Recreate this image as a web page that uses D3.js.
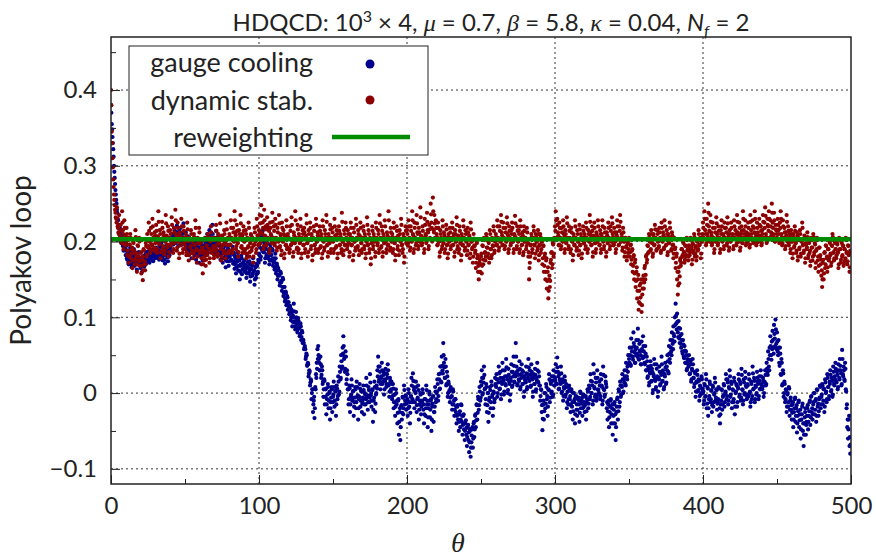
<!DOCTYPE html>
<html>
<head>
<meta charset="utf-8">
<script src="https://cdn.jsdelivr.net/npm/d3@7"></script>
<style>
    body { margin: 0; background: #fff; }
    text { font-family: Lato, "Liberation Sans", sans-serif; fill: #222; }
    .axis text { font-size: 24px; font-family: Lato, "Liberation Sans", sans-serif; fill: #222; }
    .greek { font-family: "Liberation Serif", "DejaVu Serif", serif; font-style: italic; }
</style>
</head>
<body>
<svg class="polyakov_chart" width="876" height="557"></svg>
<script>
// values in units of 0.001; "A" arrays sit at theta = i*0.5, "B" arrays at theta = i*0.5 + 0.25
var thetaStep = 0.5;

var gaugeCoolingA = [
    380,355,338,322,300,284,268,255,242,230,222,212,218,204,198,210,194,188,203,196,
    182,195,176,188,170,184,192,178,166,181,174,190,168,177,185,163,172,180,169,176,
    165,174,160,171,178,167,182,170,186,175,193,181,172,188,179,196,184,174,190,183,
    178,192,185,200,188,176,194,182,198,187,175,190,183,171,186,195,180,174,189,182,
    192,201,187,210,196,205,215,199,208,221,203,194,212,200,218,207,196,211,224,205,
    199,212,203,190,207,195,185,200,191,178,196,188,205,182,193,176,189,198,184,172,
    190,181,197,186,175,192,183,201,188,196,210,185,199,215,193,204,188,222,197,185,
    205,192,214,186,198,209,183,195,176,190,184,172,188,197,179,166,185,174,191,168,
    182,196,175,188,203,171,185,164,179,158,173,186,162,176,150,168,181,157,171,163,
    175,160,169,152,181,166,158,174,147,163,170,155,178,161,143,167,152,171,158,176,
    184,197,176,208,190,214,186,199,172,193,181,205,178,188,170,196,183,175,190,168,
    178,163,184,158,171,150,165,155,142,160,146,135,152,128,140,121,134,116,128,110,
    120,104,115,96,110,88,102,118,93,84,107,95,80,99,88,75,92,70,82,66,
    70,58,62,45,52,36,40,22,30,10,18,-8,5,-25,-10,-33,8,25,40,58,
    62,45,30,48,20,35,12,-5,18,-15,5,-28,-8,12,-20,0,-35,-12,8,-25,
    -5,15,-18,2,-30,10,-8,22,-2,35,18,50,32,60,75,45,28,55,12,30,
    5,-15,10,-25,-5,18,-10,2,-30,-12,8,-20,15,-5,-35,-8,12,-18,3,-25,
    -10,10,-28,0,-15,20,-5,-22,8,-12,25,-3,-18,5,-38,-10,15,-25,-2,10,
    30,48,15,35,5,22,40,12,28,-2,18,32,8,25,38,10,-5,20,2,15,
    -8,12,-20,-2,-30,5,-15,-40,-10,-55,-25,-62,-18,-35,-5,-28,10,-15,-3,-22,
    -10,-30,5,-18,-40,-5,20,-12,26,8,-20,2,15,-25,-8,10,-35,-15,0,-28,
    -12,5,-22,-40,-8,-30,10,-15,-45,-20,2,-32,-10,-50,-18,-5,-38,-25,8,-12,
    0,18,-10,25,5,35,15,48,30,66,40,20,45,10,28,-5,15,2,-12,8,
    -5,-22,5,-15,-30,-8,-25,-40,-18,-35,-50,-28,-45,-15,-38,-55,-30,-48,-62,-40,
    -55,-70,-45,-62,-78,-50,-84,-65,-48,-72,-40,-58,-30,-45,-15,-35,-5,-22,8,-10,
    15,30,-2,20,35,5,-15,12,-25,0,-38,-10,8,-20,15,-5,-30,2,-12,20,
    10,25,-5,18,35,5,28,-8,15,40,20,-2,30,12,45,22,0,32,15,-10,
    20,38,8,28,48,15,25,66,35,10,30,18,42,5,25,38,12,28,-5,22,
    15,35,5,25,45,18,30,8,38,20,-5,25,12,32,2,20,40,15,28,10,
    -10,5,-25,-49,-15,-35,0,-20,12,-8,-30,5,25,-12,15,0,22,-5,30,10,
    20,38,12,47,28,5,25,15,35,0,18,-10,8,22,-5,12,-20,2,-15,10,
    -8,-25,5,-18,-35,0,-12,-40,-5,-22,-30,-8,-15,-38,2,-20,-10,-30,-2,-18,
    -25,-5,-35,-12,5,-20,10,-8,25,0,15,-15,38,8,-5,20,-10,30,5,-2,
    15,-8,25,10,-15,35,5,-5,22,12,-20,-35,-15,-45,-25,-10,-40,-20,-55,-30,
    -15,-40,-62,-25,-8,-35,5,-18,15,-5,10,25,0,18,30,12,40,22,35,50,
    45,60,38,72,55,48,80,62,40,58,70,52,85,45,65,55,38,68,48,75,
    55,40,62,30,48,20,35,10,28,42,15,32,0,25,45,18,5,38,22,-5,
    20,35,10,28,48,15,30,5,25,40,12,35,50,28,62,45,70,55,80,65,
    88,75,100,118,92,105,80,95,72,85,65,78,55,70,48,62,40,55,30,45,
    38,50,25,42,15,32,45,20,8,28,-5,15,30,2,18,-10,10,-2,22,5,
    0,-15,12,-5,25,-20,8,-30,-8,15,-12,3,-25,10,-18,-2,20,-10,5,-22,
    -12,8,-30,-40,-15,5,-22,-5,12,-18,0,25,-8,18,-15,8,30,-5,15,-20,
    5,-12,20,-28,0,12,-18,8,25,-5,15,-10,32,5,-15,18,-2,28,10,-8,
    12,-5,25,0,-18,15,-8,35,5,20,-12,10,-2,28,15,-8,22,5,30,12,
    5,20,-5,15,30,10,40,28,55,35,60,75,50,68,82,60,90,72,97,65,
    80,55,70,40,60,25,45,10,30,-5,15,-12,5,-25,-2,-18,8,-30,-10,-22,
    -35,-15,-45,-25,-8,-38,-20,-52,-30,-12,-45,-28,-60,-35,-18,-50,-70,-40,-25,-55,
    -38,-20,-48,-30,-12,-42,-5,-25,-35,-15,0,-28,-10,-38,5,-18,-30,-8,10,-20,
    -5,12,-15,5,-25,18,0,-12,25,8,-8,15,30,2,20,-5,35,12,22,40,
    15,28,5,38,20,45,30,10,57,25,35,18,40,5,-20,-45,-60,-35,-70,-80
];

var gaugeCoolingB = [
    370,348,330,312,292,276,262,250,238,228,218,210,206,200,205,198,202,195,200,192,
    188,178,185,172,182,175,186,170,178,184,172,180,176,170,183,174,179,186,171,177,
    172,178,168,176,181,170,177,184,173,180,187,176,183,178,189,181,175,186,180,184,
    186,180,190,183,178,187,181,192,185,179,188,182,176,185,190,183,179,186,181,188,
    195,203,198,206,200,210,204,198,212,206,201,208,214,203,209,200,206,212,204,199,
    205,196,200,192,198,189,195,201,193,186,197,191,199,188,194,185,192,197,190,186,
    192,186,195,189,183,194,187,198,191,199,205,193,200,208,196,202,192,210,198,190,
    198,190,205,188,195,201,186,193,182,190,186,178,189,194,183,175,186,179,188,174,
    180,188,176,184,193,174,182,170,178,166,174,181,168,175,160,170,178,163,172,166,
    170,163,168,158,173,165,160,170,154,164,168,158,172,162,150,166,157,168,160,172,
    182,192,180,200,188,205,186,195,178,190,183,198,180,186,175,192,182,177,188,172,
    175,166,178,162,168,155,162,156,146,158,148,140,150,132,140,125,132,120,126,115,
    115,106,112,100,106,94,100,108,95,88,100,92,84,95,86,78,88,74,80,70,
    66,60,58,48,50,38,38,26,28,14,16,0,5,-15,-5,-20,5,20,32,45,
    50,40,30,38,24,30,15,5,16,-5,6,-15,-2,8,-10,2,-20,-6,5,-12,
    -2,8,-10,3,-15,6,-4,15,2,28,20,42,35,52,62,48,32,48,18,25,
    5,-8,6,-15,-2,10,-6,3,-18,-6,5,-12,8,-3,-20,-5,6,-10,2,-14,
    -6,4,-15,-2,-8,10,-3,-12,4,-6,14,0,-10,4,-22,-6,8,-14,0,6,
    22,35,18,28,12,20,30,15,24,5,16,26,12,20,30,12,2,16,5,12,
    -4,6,-12,-2,-18,0,-10,-26,-8,-38,-20,-45,-16,-26,-6,-20,4,-10,-4,-14,
    -8,-20,0,-12,-26,-4,10,-8,16,4,-12,0,8,-16,-6,4,-22,-10,-2,-18,
    -10,0,-15,-28,-8,-20,4,-10,-32,-15,-2,-22,-8,-35,-14,-4,-25,-18,2,-8,
    2,12,-4,18,6,26,14,36,26,50,34,20,35,12,22,0,12,4,-6,5,
    -4,-15,2,-10,-22,-8,-18,-30,-16,-28,-38,-24,-35,-16,-30,-42,-28,-40,-50,-36,
    -46,-58,-42,-52,-65,-48,-72,-56,-45,-60,-38,-48,-28,-36,-16,-26,-8,-16,2,-6,
    10,20,0,14,24,6,-8,8,-16,0,-26,-6,4,-12,10,-2,-20,0,-8,12,
    8,18,0,14,26,6,20,-2,12,30,16,2,22,10,34,18,4,24,12,-2,
    16,28,10,22,36,14,22,48,28,12,24,16,32,8,20,30,12,22,2,18,
    14,26,8,20,34,16,24,10,28,18,2,20,12,24,5,16,30,14,22,10,
    -4,4,-16,-34,-10,-24,0,-14,8,-4,-18,4,18,-6,12,2,16,-2,22,10,
    16,28,12,34,22,6,18,12,26,2,14,-4,6,16,-2,8,-12,2,-8,6,
    -4,-16,2,-12,-24,0,-8,-28,-4,-15,-22,-6,-10,-26,0,-14,-6,-20,-2,-12,
    -16,-4,-24,-8,2,-14,6,-5,16,0,10,-10,26,6,-2,14,-6,20,4,0,
    10,-4,18,8,-10,24,4,-2,15,8,-12,-24,-10,-32,-18,-8,-28,-15,-40,-22,
    -12,-28,-45,-18,-6,-24,2,-12,10,-2,8,18,2,14,22,10,30,18,28,38,
    40,50,36,60,48,44,66,54,40,50,60,48,70,44,56,50,38,58,46,62,
    48,38,52,30,42,22,32,14,26,36,16,28,4,22,38,16,8,32,20,2,
    18,28,12,24,38,16,26,8,22,34,14,30,42,26,52,40,60,50,70,58,
    78,68,90,102,84,94,74,86,66,76,60,70,52,64,46,56,40,50,32,42,
    35,44,26,38,18,30,38,20,12,26,2,14,24,4,16,-4,8,0,18,6,
    2,-10,10,-4,18,-14,6,-20,-4,12,-8,4,-16,8,-12,0,14,-6,4,-14,
    -8,6,-20,-28,-10,4,-15,-3,10,-12,2,18,-4,14,-10,6,22,-2,12,-12,
    4,-8,15,-18,2,10,-12,6,18,-2,12,-6,24,4,-10,14,0,20,8,-4,
    10,-2,18,2,-12,12,-4,26,6,16,-8,8,0,20,12,-4,16,6,22,10,
    8,16,0,14,24,12,32,24,45,30,50,62,44,58,70,52,78,62,84,58,
    68,50,60,36,52,24,40,12,26,0,12,-8,4,-18,0,-12,6,-22,-6,-16,
    -26,-12,-35,-20,-6,-30,-16,-40,-24,-10,-36,-22,-48,-28,-14,-40,-55,-32,-20,-42,
    -30,-16,-38,-24,-10,-32,-4,-20,-28,-12,0,-22,-8,-30,4,-14,-24,-6,8,-15,
    -2,10,-10,6,-18,14,2,-8,20,8,-4,12,24,4,16,-2,28,10,18,32,
    14,24,8,30,18,36,26,12,45,22,30,16,32,2,-15,-35,-48,-30,-58,-68
];

var dynamicStabA = [
    400,345,310,282,262,248,238,230,245,220,212,235,205,222,198,240,215,190,228,208,
    195,218,182,205,172,196,210,178,190,165,200,185,170,215,180,160,195,175,205,168,
    185,158,176,149,190,170,162,198,180,210,192,225,200,185,218,195,230,205,188,212,
    198,222,185,207,240,196,215,178,203,226,190,212,183,200,235,208,192,220,180,205,
    215,195,232,202,185,218,198,242,210,188,225,200,178,212,195,230,205,185,220,198,
    190,210,182,225,200,175,205,192,215,185,200,178,210,195,228,188,172,205,198,218,
    185,200,170,192,158,185,175,205,168,195,182,210,190,172,200,220,185,205,192,178,
    205,188,222,195,180,210,198,235,190,175,208,195,185,215,200,178,225,195,205,185,
    210,195,228,205,185,218,200,240,212,190,222,198,180,215,205,235,192,210,185,220,
    200,185,215,178,205,192,225,180,198,210,188,205,172,195,218,200,185,230,208,195,
    215,235,198,248,212,225,190,242,208,220,195,232,205,218,185,225,210,198,238,205,
    220,195,230,205,188,218,200,235,192,210,182,225,200,215,178,208,195,228,190,210,
    205,185,220,195,232,200,180,212,198,240,205,190,222,185,210,198,230,178,205,215,
    195,218,185,208,235,198,180,215,202,225,190,210,175,205,220,195,185,230,200,212,
    185,205,220,192,210,178,228,200,188,215,205,235,195,180,210,198,222,185,205,218,
    200,185,230,208,192,215,178,205,220,195,210,185,238,200,182,215,195,225,205,190,
    215,198,180,210,225,195,205,175,218,200,188,230,205,192,215,182,208,225,198,185,
    205,220,190,210,178,200,232,195,215,185,205,170,198,220,190,210,200,180,225,205,
    195,215,185,235,205,192,220,180,210,198,228,200,185,212,195,240,205,188,218,200,
    210,185,225,198,175,205,220,190,208,182,215,200,230,195,185,210,172,205,220,198,
    215,195,228,205,188,220,200,240,210,185,225,205,195,235,212,190,218,200,245,208,
    195,220,205,185,230,210,198,238,215,190,222,205,250,225,200,258,215,235,205,228,
    210,195,225,200,180,215,205,190,228,198,212,185,205,222,195,178,210,200,218,190,
    205,225,195,210,180,215,200,232,190,208,185,220,198,175,210,195,228,205,188,215,
    200,182,218,195,208,178,225,200,190,172,210,195,185,165,200,178,160,150,172,160,
    180,158,195,170,205,185,175,210,192,180,200,172,215,190,178,205,195,220,185,200,
    210,195,228,205,188,220,200,235,212,195,225,205,190,218,200,232,210,185,220,205,
    195,215,225,200,185,210,234,205,190,220,200,215,185,228,205,195,212,182,220,200,
    205,190,218,198,180,150,172,195,210,185,205,220,195,178,210,200,188,215,175,195,
    210,185,200,170,195,160,180,150,175,138,160,125,150,140,172,185,165,198,180,205,
    220,240,205,230,212,195,225,205,190,218,200,228,210,185,215,198,232,205,190,220,
    205,185,218,200,175,210,195,228,205,188,215,200,182,222,195,210,178,205,220,198,
    210,190,225,205,185,215,200,235,212,195,220,180,208,225,198,185,212,200,228,205,
    195,215,185,210,228,200,190,218,205,180,212,198,225,205,190,220,200,232,210,195,
    218,200,185,212,228,205,195,220,235,200,210,188,218,200,180,205,192,175,198,185,
    205,180,195,170,188,160,180,150,172,140,160,125,150,110,135,118,145,107,130,150,
    138,165,150,180,172,195,185,210,200,188,215,198,180,210,195,222,205,188,215,200,
    192,218,205,185,225,200,212,190,228,205,195,215,182,210,198,225,205,188,212,195,
    178,205,190,165,180,150,130,160,145,175,168,190,180,200,185,172,195,180,205,188,
    175,195,182,205,190,170,198,185,210,180,192,175,200,188,215,195,205,178,200,210,
    225,205,240,215,195,230,210,250,220,200,235,212,195,225,205,185,218,200,232,210,
    195,220,205,185,215,228,200,210,190,225,205,218,195,232,210,188,215,200,225,205,
    210,190,228,205,215,195,235,212,200,225,188,210,220,198,240,215,205,228,195,212,
    200,225,210,192,235,215,205,228,198,218,240,210,195,225,212,200,230,208,220,195,
    215,235,205,225,245,210,198,230,220,240,205,228,212,250,225,210,238,200,222,215,
    205,230,215,198,225,240,210,195,228,205,218,190,212,235,200,220,195,210,185,215,
    200,178,210,192,220,198,185,212,175,205,190,215,180,200,225,195,185,208,172,198,
    190,212,178,200,185,168,205,192,175,210,182,198,165,188,205,175,160,192,180,170,
    155,140,172,150,185,165,195,178,160,190,175,200,182,168,195,210,185,175,200,190,
    178,198,185,165,205,190,172,200,180,195,168,190,175,205,185,170,195,182,160,188
];

var dynamicStabB = [
    380,330,298,272,255,242,232,225,230,218,210,222,206,215,200,225,210,196,218,206,
    198,210,188,202,180,196,205,184,192,175,198,188,176,206,184,170,194,180,200,174,
    186,168,180,162,188,174,170,194,182,202,194,214,200,190,210,196,220,204,192,208,
    200,214,190,206,226,198,210,186,204,218,194,208,188,200,224,206,196,214,186,204,
    210,198,222,202,190,212,200,228,208,192,218,200,184,208,196,220,204,190,214,200,
    194,206,186,216,200,182,204,194,210,188,200,184,206,196,218,190,180,204,198,212,
    188,198,178,192,170,188,180,202,176,194,186,206,190,178,200,212,188,202,194,182,
    202,190,214,196,184,206,198,224,192,180,206,196,188,210,200,184,216,196,204,188,
    206,196,218,204,190,212,200,228,208,194,214,198,186,210,204,224,194,208,190,214,
    200,190,210,184,204,194,218,186,198,208,192,204,180,196,212,200,190,220,206,196,
    210,224,200,234,210,218,194,228,206,216,198,222,204,214,190,218,208,200,226,204,
    214,198,222,204,192,212,200,224,194,208,188,218,200,210,184,206,196,220,192,206,
    204,190,214,196,222,200,186,208,198,228,204,192,216,190,206,198,220,184,204,210,
    196,212,190,206,224,198,186,210,202,218,194,206,182,204,214,196,190,222,200,208,
    190,204,214,194,206,184,220,200,192,210,204,226,196,186,206,198,216,190,204,212,
    200,190,220,206,194,210,184,204,214,196,206,190,226,200,188,210,196,218,204,194,
    210,198,186,206,218,196,204,182,212,200,192,222,204,194,210,188,206,218,198,190,
    204,214,194,206,184,200,222,196,210,190,204,178,198,214,194,206,200,186,218,204,
    198,210,190,224,204,194,214,186,206,198,220,200,190,208,196,228,204,192,212,200,
    206,190,218,198,182,204,214,194,206,188,210,200,222,196,190,206,180,204,214,198,
    210,198,220,204,192,214,200,228,208,190,218,204,198,224,210,194,212,200,232,206,
    198,214,204,190,222,208,200,226,212,194,216,204,236,218,202,240,212,224,204,218,
    206,196,218,200,186,210,204,194,220,198,208,190,204,216,196,184,206,200,212,194,
    204,218,196,208,186,210,200,222,194,206,190,214,198,182,206,196,220,204,192,210,
    200,188,212,196,206,184,216,200,192,180,204,194,188,172,198,182,168,160,176,170,
    184,168,194,176,202,186,180,206,192,184,198,178,210,190,182,202,194,214,188,200,
    206,196,220,204,192,214,200,226,208,196,218,204,194,212,200,224,208,190,214,204,
    198,210,218,200,190,208,224,204,194,214,200,210,190,220,204,196,208,186,214,200,
    204,194,212,198,186,165,180,196,206,190,204,214,196,184,206,200,192,210,182,196,
    206,190,200,178,194,168,184,160,178,148,166,135,155,148,176,186,170,196,184,202,
    214,228,204,222,208,196,218,204,194,212,200,220,206,190,210,198,224,204,194,214,
    204,190,212,200,182,206,196,220,204,192,210,200,188,216,196,206,184,204,214,198,
    206,194,218,204,190,210,200,226,208,196,214,186,206,218,198,190,208,200,220,204,
    196,210,190,206,220,200,194,212,204,186,208,198,218,204,194,214,200,224,206,196,
    212,200,190,208,220,204,196,214,226,200,206,192,212,200,186,204,194,180,198,190,
    202,186,196,176,190,168,182,158,176,148,166,135,156,120,142,126,150,116,138,155,
    146,168,156,182,176,194,186,206,200,190,210,198,184,206,196,216,204,190,210,200,
    194,212,204,188,218,200,208,192,220,204,196,210,186,206,198,218,204,190,208,196,
    184,204,192,172,184,160,142,166,154,178,172,190,182,198,186,176,194,182,202,190,
    180,194,186,202,192,176,196,188,206,184,194,180,200,190,210,196,204,184,200,206,
    218,204,230,210,198,222,206,238,214,200,226,208,198,218,204,190,212,200,224,206,
    198,214,204,190,210,220,200,208,194,218,204,212,198,224,206,192,210,200,218,204,
    206,194,220,204,210,198,226,208,200,218,192,206,214,198,230,210,204,220,198,208,
    200,218,206,196,226,210,204,220,200,212,230,206,198,218,208,200,222,206,214,198,
    210,226,204,218,234,206,200,222,214,230,204,220,208,238,218,206,228,200,216,210,
    204,222,210,200,218,230,206,198,220,204,212,194,208,226,200,214,198,206,190,210,
    200,184,206,194,214,198,188,208,180,202,192,210,184,200,218,196,188,204,178,196,
    192,206,182,198,188,174,202,192,180,206,186,196,172,190,202,180,168,192,182,176,
    162,150,176,158,186,170,194,180,166,190,178,198,184,172,194,206,186,178,198,190,
    182,196,186,170,202,190,176,198,182,194,172,190,178,202,186,174,194,184,166,186
];

var reweighting = 0.203;

var xTicks = [0, 100, 200, 300, 400, 500];
var xMinorTicks = [50, 150, 250, 350, 450];
var yTicks = [-0.1, 0, 0.1, 0.2, 0.3, 0.4];
var yMinorTicks = [-0.05, 0.05, 0.15, 0.25, 0.35, 0.45];

var legendLabels = ["gauge cooling", "dynamic stab.", "reweighting"];
var colors = ["#00008b", "#8b0000", "#008c00"];

var svg = d3.select('.polyakov_chart');

var margin = { top: 37, right: 25, bottom: 73, left: 111 },
    width = +svg.attr("width") - margin.left - margin.right,
    height = +svg.attr("height") - margin.top - margin.bottom;

var xScale = d3.scaleLinear().domain([0, 500]).range([0, width]);
var yScale = d3.scaleLinear().domain([-0.12, 0.47]).range([height, 0]);

function toPoints(a, b) {
    var pts = [];
    a.forEach(function (v, i) { pts.push({ theta: i * thetaStep, value: v / 1000 }); });
    b.forEach(function (v, i) { pts.push({ theta: i * thetaStep + thetaStep / 2, value: v / 1000 }); });
    return pts;
}

drawChart();

function drawChart() {
    var chart = svg.append("g")
        .attr("transform", "translate(" + margin.left + "," + margin.top + ")");

    chart.append("defs").append("clipPath")
        .attr("id", "clip")
        .append("rect")
        .attr("width", width)
        .attr("height", height);

    // grid
    var grid = chart.append("g")
        .attr("stroke", "#333")
        .attr("stroke-width", 1)
        .attr("stroke-dasharray", "2,3");

    grid.selectAll(".gx")
        .data(xTicks.slice(1, -1)).enter()
        .append("line")
        .attr("x1", function (d) { return xScale(d); })
        .attr("x2", function (d) { return xScale(d); })
        .attr("y1", 0)
        .attr("y2", height);

    grid.selectAll(".gy")
        .data(yTicks).enter()
        .append("line")
        .attr("x1", 0)
        .attr("x2", width)
        .attr("y1", function (d) { return yScale(d); })
        .attr("y2", function (d) { return yScale(d); });

    var plot = chart.append("g").attr("clip-path", "url(#clip)");

    [[gaugeCoolingA, gaugeCoolingB], [dynamicStabA, dynamicStabB]].forEach(function (series, k) {
        plot.append("g")
            .selectAll("circle")
            .data(toPoints(series[0], series[1])).enter()
            .append("circle")
            .attr("cx", function (d) { return xScale(d.theta); })
            .attr("cy", function (d) { return yScale(d.value); })
            .attr("r", 2.1)
            .attr("fill", colors[k]);
    });

    plot.append("line")
        .attr("x1", xScale(0))
        .attr("x2", xScale(500))
        .attr("y1", yScale(reweighting))
        .attr("y2", yScale(reweighting))
        .attr("stroke", colors[2])
        .attr("stroke-width", 4.5);

    // axes
    var fmt = function (d) { return d === 0 ? "0" : d3.format(".1f")(d); };

    chart.append("g")
        .attr("class", "axis")
        .attr("color", "#222")
        .call(d3.axisLeft(yScale).tickValues(yTicks).tickSize(-9).tickPadding(14).tickFormat(fmt))
        .call(function (g) { g.select(".domain").remove(); });

    chart.append("g")
        .attr("color", "#222")
        .call(d3.axisLeft(yScale).tickValues(yMinorTicks).tickSize(-5).tickFormat(""))
        .call(function (g) { g.select(".domain").remove(); });

    chart.append("g")
        .attr("class", "axis")
        .attr("color", "#222")
        .attr("transform", "translate(0," + height + ")")
        .call(d3.axisBottom(xScale).tickValues(xTicks).tickSize(-9).tickPadding(13))
        .call(function (g) { g.select(".domain").remove(); });

    chart.append("g")
        .attr("color", "#222")
        .attr("transform", "translate(0," + height + ")")
        .call(d3.axisBottom(xScale).tickValues(xMinorTicks).tickSize(-5).tickFormat(""))
        .call(function (g) { g.select(".domain").remove(); });

    chart.append("rect")
        .attr("width", width)
        .attr("height", height)
        .attr("fill", "none")
        .attr("stroke", "#222")
        .attr("stroke-width", 1.5);

    // legend
    var legend = chart.append("g").attr("transform", "translate(18,9)");

    legend.append("rect")
        .attr("width", 299)
        .attr("height", 109)
        .attr("fill", "#fff")
        .attr("stroke", "#222")
        .attr("stroke-width", 1);

    legend.selectAll("text")
        .data(legendLabels).enter()
        .append("text")
        .attr("x", 184)
        .attr("y", function (d, i) { return 26 + i * 37.5; })
        .attr("text-anchor", "end")
        .style("font-size", "27px")
        .text(function (d) { return d; });

    legend.selectAll("circle")
        .data(legendLabels.slice(0, 2)).enter()
        .append("circle")
        .attr("cx", 241)
        .attr("cy", function (d, i) { return 18 + i * 36; })
        .attr("r", 4.5)
        .attr("fill", function (d, i) { return colors[i]; });

    legend.append("line")
        .attr("x1", 203)
        .attr("x2", 281)
        .attr("y1", 91)
        .attr("y2", 91)
        .attr("stroke", colors[2])
        .attr("stroke-width", 4.5);

    // title
    var title = svg.append("text")
        .attr("x", 491)
        .attr("y", 31)
        .attr("text-anchor", "middle")
        .style("font-size", "24px");

    title.append("tspan").text("HDQCD: 10");
    title.append("tspan").attr("dy", -9).style("font-size", "16px").text("3");
    title.append("tspan").attr("dy", 9).text(" \u00d7 4, ");
    title.append("tspan").attr("class", "greek").text("\u03bc");
    title.append("tspan").text(" = 0.7, ");
    title.append("tspan").attr("class", "greek").text("\u03b2");
    title.append("tspan").text(" = 5.8, ");
    title.append("tspan").attr("class", "greek").text("\u03ba");
    title.append("tspan").text(" = 0.04, ");
    title.append("tspan").style("font-style", "italic").text("N");
    title.append("tspan").attr("dy", 6).style("font-size", "16px").style("font-style", "italic").text("f");
    title.append("tspan").attr("dy", -6).text(" = 2");

    svg.append("text")
        .attr("transform", "translate(31," + (margin.top + height / 2) + ") rotate(-90)")
        .attr("text-anchor", "middle")
        .style("font-size", "28px")
        .text("Polyakov loop");

    svg.append("text")
        .attr("class", "greek")
        .attr("x", 458)
        .attr("y", 552)
        .attr("text-anchor", "middle")
        .style("font-size", "28px")
        .text("\u03b8");
}
</script>
</body>
</html>
